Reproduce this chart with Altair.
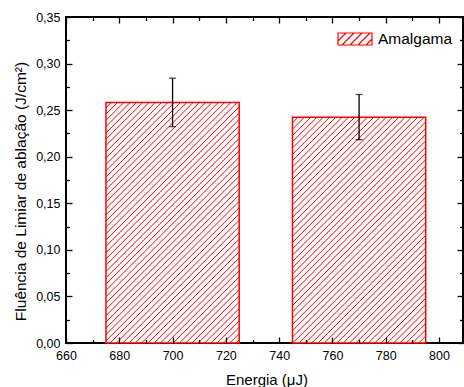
import altair as alt
import pandas as pd

# ---- data ----
energy = [700, 770]            # bar centres (µJ)
bar_half = [25, 25]            # half bar width (µJ)
fluence = [0.2583, 0.2425]     # J/cm^2
err = [0.026, 0.0243]
series = "Amalgama"

x_major = [660, 680, 700, 720, 740, 760, 780, 800]
x_minor = [670, 690, 710, 730, 750, 770, 790]
y_major = [0.0, 0.05, 0.10, 0.15, 0.20, 0.25, 0.30, 0.35]
y_minor = [0.025, 0.075, 0.125, 0.175, 0.225, 0.275, 0.325]

# ---- layout ----
W, H = 397, 326
XMIN, XMAX, YMAX = 660, 809, 0.35
FONT = "Liberation Sans"
RED = "#ff0000"

bars = pd.DataFrame({
    "x0": [e - h for e, h in zip(energy, bar_half)],
    "x1": [e + h for e, h in zip(energy, bar_half)],
    "v": fluence,
    "xc": energy,
    "lo": [v - e for v, e in zip(fluence, err)],
    "hi": [v + e for v, e in zip(fluence, err)],
    "serie": [series] * len(energy),
})

caps = pd.DataFrame({
    "xc": energy + energy,
    "yc": list(bars["lo"]) + list(bars["hi"]),
})

# hatch lines (45 deg in screen space) clipped to each bar
sx = W / (XMAX - XMIN)
sy = H / YMAX
d = 6.3
rows = []
for x0, x1, v in zip(bars["x0"], bars["x1"], bars["v"]):
    L, R, T = (x0 - XMIN) * sx, (x1 - XMIN) * sx, v * sy
    k = int((L - T) // d) - 1
    while k * d < R + d:
        c = k * d
        a, b = max(L, c), min(R, c + T)
        if b - a > 0.3:
            rows.append({"hx0": XMIN + a / sx, "hy0": (a - c) / sy,
                         "hx1": XMIN + b / sx, "hy1": (b - c) / sy})
        k += 1
hatch = pd.DataFrame(rows)

# legend symbol: rectangle with hatch, in [-1,1] units
lw, lh = 34.0, 12.0
hh = lh / lw
parts = [f"M-1,{-hh:.4f}H1V{hh:.4f}H-1Z"]
step = 8.0 / (lw / 2)
c = -1 - hh
while c < 1 + hh:
    a, b = max(-1, c - hh), min(1, c + hh)
    if b - a > 0.02:
        parts.append(f"M{a:.4f},{c - a:.4f}L{b:.4f},{c - b:.4f}")
    c += step
legend_path = "".join(parts)

xs = alt.Scale(domain=[XMIN, XMAX], nice=False, zero=False)
ys = alt.Scale(domain=[0, YMAX], nice=False)


def tick_axis(orient, values, size, offset):
    return alt.Axis(orient=orient, offset=offset, values=values, tickSize=size,
                    labels=False, domain=False, grid=False, title=None,
                    tickColor="black", tickWidth=1.3, zindex=1)


fill_layer = alt.Chart(bars).mark_rect(fill="white", strokeWidth=0).encode(
    x=alt.X("x0:Q", scale=xs, axis=alt.Axis(
        orient="bottom", values=x_major, ticks=False, tickSize=0, domain=False,
        grid=False, labelPadding=16, labelBaseline="alphabetic", labelFontSize=12.5,
        labelFont=FONT, labelColor="black", labelFlush=False,
        title="Energia (μJ)", titleFont=FONT, titleFontSize=15, titleFontWeight="normal",
        titleColor="black", titleX=200.5, titleY=41, titleBaseline="alphabetic",
        titleAlign="center")),
    x2="x1:Q",
    y=alt.Y("v:Q", scale=ys, axis=alt.Axis(
        orient="left", values=y_major, ticks=False, tickSize=0, domain=False,
        grid=False, labelPadding=6, labelFontSize=12.5, labelFont=FONT,
        labelColor="black", labelFlush=False,
        labelExpr="replace(format(datum.value, '.2f'), '.', ',')",
        title="Fluência de Limiar de ablação (J/cm²)", titleFont=FONT,
        titleFontSize=15.5, titleFontWeight="normal", titleColor="black",
        titleAngle=-90, titleX=-41, titleY=174, titleBaseline="alphabetic",
        titleAlign="center")),
    y2=alt.datum(0),
)

hatch_layer = alt.Chart(hatch).mark_rule(stroke=RED, strokeWidth=1, opacity=1).encode(
    x=alt.X("hx0:Q", scale=xs, axis=tick_axis("top", x_major, 6, -H)),
    y=alt.Y("hy0:Q", scale=ys, axis=tick_axis("right", y_major, 6, -W)),
    x2="hx1:Q",
    y2="hy1:Q",
    color=alt.value(RED),
)

outline_layer = alt.Chart(bars).mark_rect(filled=False, strokeWidth=1.5).encode(
    x=alt.X("x0:Q", scale=xs, axis=tick_axis("bottom", x_major, 6, -H)),
    x2="x1:Q",
    y=alt.Y("v:Q", scale=ys, axis=tick_axis("left", y_major, 6, -W)),
    y2=alt.datum(0),
    stroke=alt.Stroke("serie:N", scale=alt.Scale(range=[RED]), legend=alt.Legend(
        orient="none", legendX=271, legendY=4, title=None, padding=0,
        symbolType=legend_path, symbolSize=lw * lw, symbolStrokeWidth=1.2,
        symbolStrokeColor=RED, labelFont=FONT, labelFontSize=15.5,
        labelColor="black", labelOffset=5)),
)

err_layer = alt.Chart(bars).mark_rule(color="black", strokeWidth=1.3).encode(
    x=alt.X("xc:Q", scale=xs, axis=tick_axis("top", x_minor, 3.5, -H)),
    y=alt.Y("lo:Q", scale=ys, axis=tick_axis("right", y_minor, 3.5, -W)),
    y2="hi:Q",
)

cap_layer = alt.Chart(caps).mark_tick(color="black", orient="horizontal",
                                      size=7, thickness=1.3).encode(
    x=alt.X("xc:Q", scale=xs, axis=tick_axis("bottom", x_minor, 3.5, -H)),
    y=alt.Y("yc:Q", scale=ys, axis=tick_axis("left", y_minor, 3.5, -W)),
)

chart = alt.layer(fill_layer, hatch_layer, outline_layer, err_layer, cap_layer).resolve_axis(
    x="independent", y="independent"
).properties(
    width=W, height=H,
    autosize=alt.AutoSizeParams(type="none"),
    padding={"left": 66, "top": 17, "right": 1, "bottom": 44},
    background="white",
).configure_view(stroke="black", strokeWidth=2)

chart.save("out.html", embed_options={"renderer": "svg", "actions": False})
